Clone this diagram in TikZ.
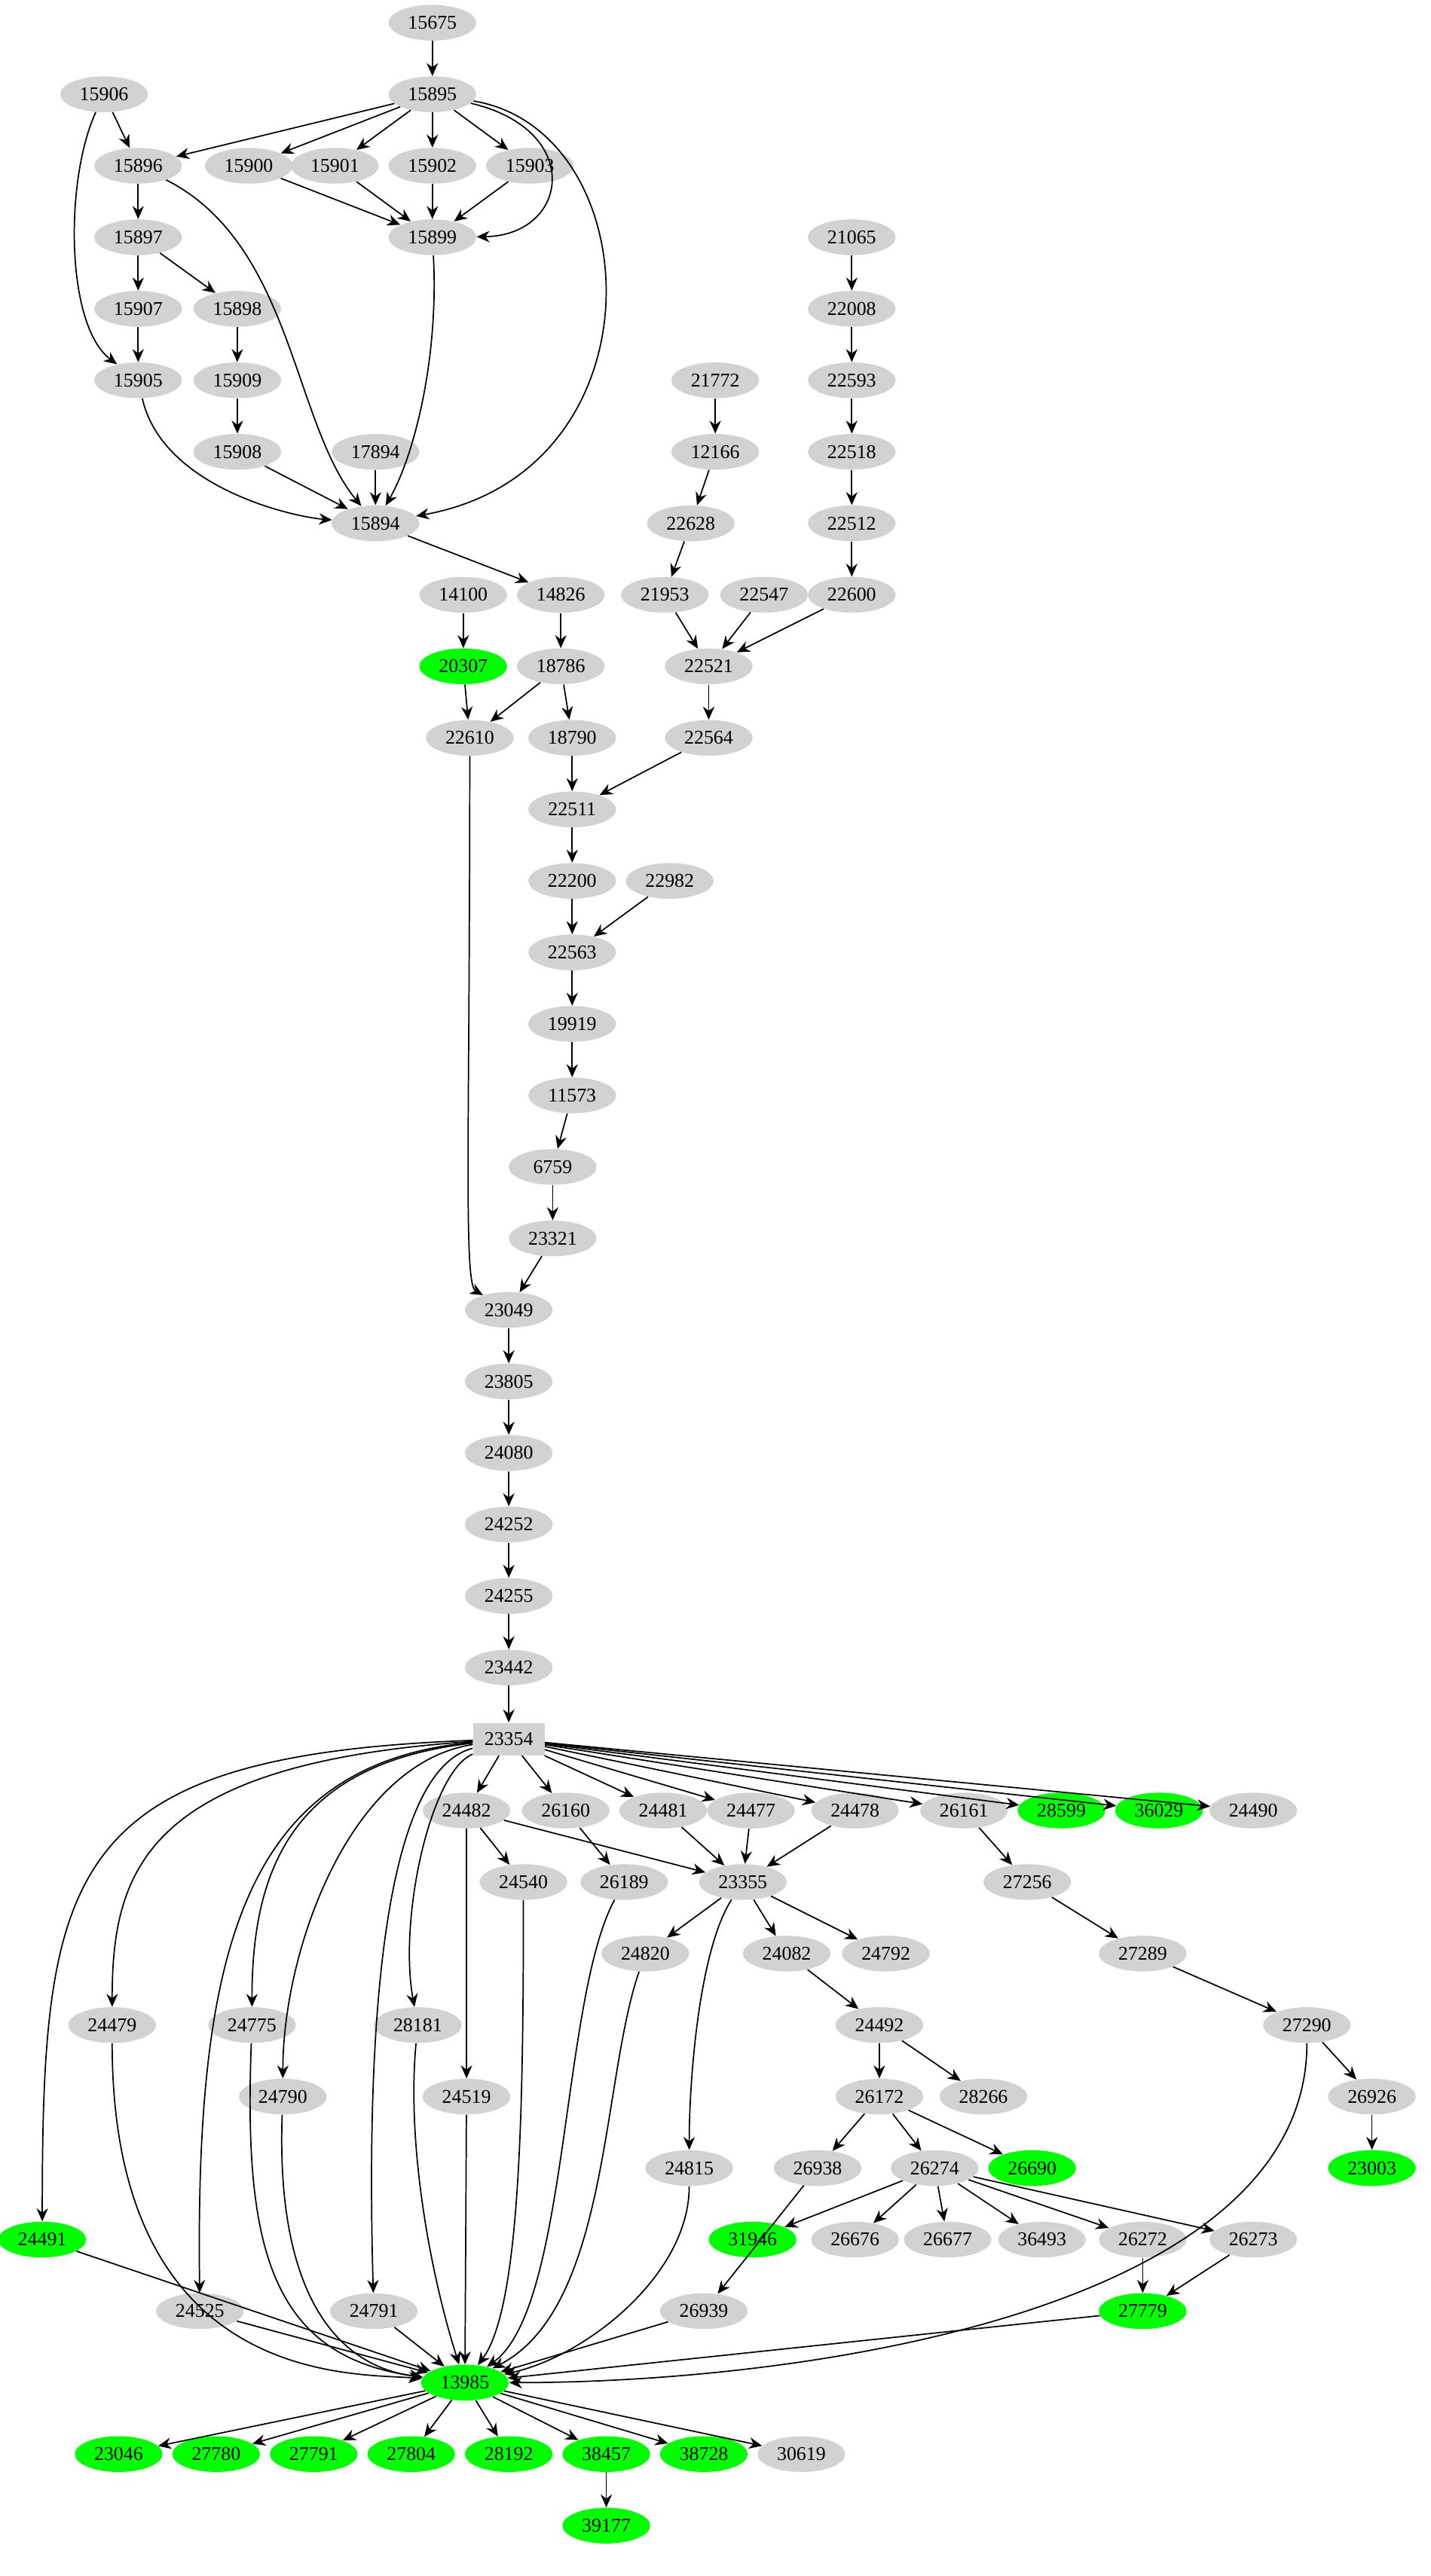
\documentclass[tikz,border=0pt]{standalone}
\usepackage{fontspec}
\setmainfont{Liberation Serif}
\usetikzlibrary{arrows.meta,shapes.geometric}
\begin{document}
\begin{tikzpicture}[x=1pt,y=-1pt,
 g/.style={ellipse,fill=gray!35,minimum width=54pt,minimum height=22pt,inner sep=0pt,font=\fontsize{12}{14}\selectfont},
 gr/.style={g,fill=green},
 e/.style={-{Stealth[length=8pt,width=7pt]},line width=0.8pt}]
\useasboundingbox (0,0) rectangle (880,1585);
\foreach \n/\x/\y in {15675/266/14,15895/266/58,15906/64/58,15896/85/102,15900/153/102,15901/206/102,15902/266/102,15903/326/102,15899/266/146,15897/85/146,15907/85/190,15898/146/190,15905/85/234,15909/146/234,15908/146/278,17894/231/278,15894/231/322,21065/524/146,22008/524/190,22593/524/234,22518/524/278,22512/524/322,22600/524/366,21772/440/234,12166/440/278,22628/425/322,21953/409/366,22547/470/366,22521/436/410,22564/436/454,14100/285/366,14826/345/366,18786/345/410,22610/289/454,18790/352/454,22511/352/498,22200/352/542,22982/412/542,22563/352/586,19919/352/630,11573/352/674,6759/340/718,23321/340/762,23049/313/806,23805/313/850,24080/313/894,24252/313/938,24255/313/982,23442/313/1026,24482/287/1114,26160/348/1114,24481/408/1114,24477/462/1114,24478/526/1114,26161/593/1114,24490/771/1114,24540/322/1158,26189/384/1158,23355/457/1158,27256/632/1158,24820/397/1202,24082/484/1202,24792/545/1202,27289/703/1202,24479/69/1246,24775/155/1246,28181/257/1246,24492/541/1246,27290/804/1246,24790/174/1290,24519/287/1290,26172/541/1290,28266/605/1290,26926/844/1290,24815/424/1334,26938/503/1334,26274/575/1334,24525/123/1422,24791/230/1422,26676/526/1378,26677/583/1378,36493/641/1378,26272/703/1378,26273/771/1378,26939/433/1422,30619/493/1510}
  \node[g] (n\n) at (\x,\y) {\n};
\foreach \n/\x/\y in {20307/285/410,28599/653/1114,36029/713/1114,26690/635/1334,23003/844/1334,24491/26/1378,31946/463/1378,27779/703/1422,13985/286/1466,23046/73/1510,27780/133/1510,27791/193/1510,27804/253/1510,28192/313/1510,38457/373/1510,38728/433/1510,39177/373/1554}
  \node[gr] (n\n) at (\x,\y) {\n};
\node[fill=gray!35,minimum width=44pt,minimum height=20pt,inner sep=0pt,font=\fontsize{12}{14}\selectfont] (n23354) at (313,1070) {23354};
\foreach \a/\b in {15675/15895,15895/15896,15895/15900,15895/15901,15895/15902,15895/15903,15906/15896,15896/15897,15900/15899,15901/15899,15902/15899,15903/15899,15897/15907,15897/15898,15907/15905,15898/15909,15909/15908,15908/15894,17894/15894,15894/14826,21065/22008,22008/22593,22593/22518,22518/22512,22512/22600,21772/12166,12166/22628,22628/21953,21953/22521,22547/22521,22600/22521,22521/22564,22564/22511,14100/20307,20307/22610,14826/18786,18786/22610,18786/18790,18790/22511,22511/22200,22200/22563,22982/22563,22563/19919,19919/11573,11573/6759,6759/23321,23321/23049,23049/23805,23805/24080,24080/24252,24252/24255,24255/23442,23442/23354,23354/24482,23354/26160,23354/24481,23354/24477,23354/24478,23354/26161,23354/28599,23354/36029,23354/24490,24482/24540,24482/23355,24482/24519,26160/26189,24481/23355,24477/23355,24478/23355,26161/27256,27256/27289,27289/27290,23355/24820,23355/24082,23355/24792,24082/24492,24492/26172,24492/28266,26172/26938,26172/26274,26172/26690,26274/31946,26274/26676,26274/26677,26274/36493,26274/26272,26274/26273,26272/27779,26273/27779,27290/26926,26926/23003,26938/26939,24491/13985,24525/13985,24791/13985,26939/13985,27779/13985,13985/23046,13985/27780,13985/27791,13985/27804,13985/28192,13985/38457,13985/38728,13985/30619,38457/39177}
  \draw[e] (n\a) -- (n\b);
\draw[e] (n15895) .. controls (360,80) and (350,145) .. (n15899);
\draw[e] (n15895) .. controls (400,80) and (410,290) .. (n15894);
\draw[e] (n15906) .. controls (40,110) and (40,200) .. (n15905);
\draw[e] (n15896) .. controls (180,150) and (180,260) .. (n15894);
\draw[e] (n15899) .. controls (270,220) and (255,280) .. (n15894);
\draw[e] (n15905) .. controls (100,300) and (180,318) .. (n15894);
\draw[e] (n22610) .. controls (289,700) and (285,790) .. (n23049);
\draw[e] (n23354) .. controls (40,1080) and (26,1150) .. (n24491);
\draw[e] (n23354) .. controls (90,1085) and (69,1150) .. (n24479);
\draw[e] (n23354) .. controls (150,1085) and (120,1200) .. (n24525);
\draw[e] (n23354) .. controls (180,1085) and (155,1150) .. (n24775);
\draw[e] (n23354) .. controls (215,1085) and (174,1200) .. (n24790);
\draw[e] (n23354) .. controls (235,1090) and (225,1250) .. (n24791);
\draw[e] (n23354) .. controls (265,1090) and (245,1180) .. (n28181);
\draw[e] (n23355) .. controls (430,1200) and (424,1280) .. (n24815);
\draw[e] (n24479) .. controls (69,1470) and (220,1460) .. (n13985);
\draw[e] (n24775) .. controls (150,1380) and (165,1450) .. (n13985);
\draw[e] (n24790) .. controls (170,1400) and (200,1455) .. (n13985);
\draw[e] (n28181) .. controls (250,1320) and (265,1400) .. (n13985);
\draw[e] (n24519) -- (n13985);
\draw[e] (n24540) .. controls (322,1300) and (320,1420) .. (n13985);
\draw[e] (n26189) .. controls (345,1230) and (350,1420) .. (n13985);
\draw[e] (n24820) .. controls (370,1280) and (375,1420) .. (n13985);
\draw[e] (n24815) .. controls (424,1400) and (360,1450) .. (n13985);
\draw[e] (n27290) .. controls (804,1420) and (500,1466) .. (n13985);
\end{tikzpicture}
\end{document}
